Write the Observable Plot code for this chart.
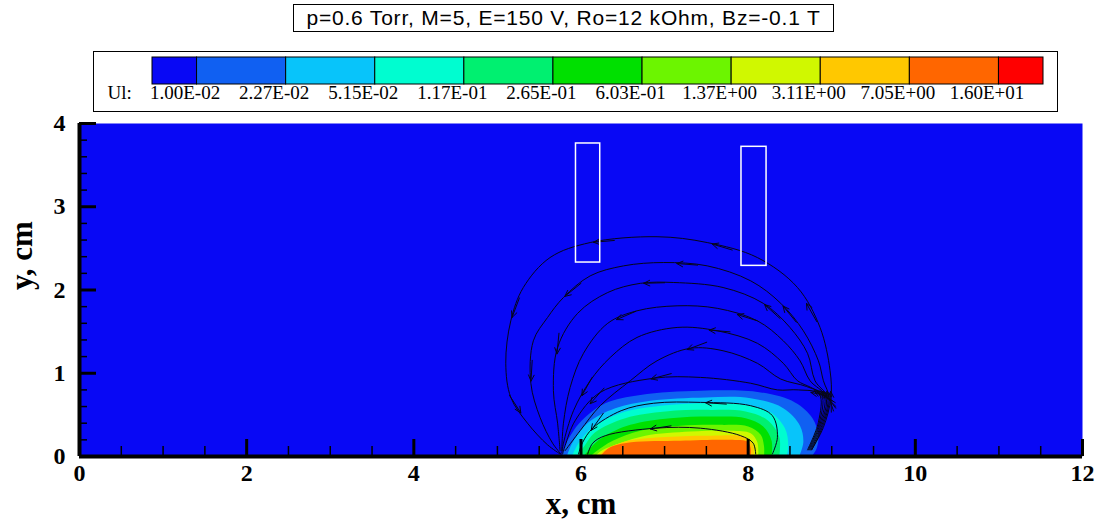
<!DOCTYPE html>
<html><head><meta charset="utf-8">
<script src="https://cdn.jsdelivr.net/npm/d3@7"></script>
<script src="https://cdn.jsdelivr.net/npm/@observablehq/plot@0.6"></script>
<style>
body{margin:0;background:#fff;width:1100px;height:527px;position:relative;overflow:hidden}
#title{position:absolute;left:293px;top:4px;width:541px;height:28px;box-sizing:border-box;border:1px solid #000;font:21px "Liberation Sans",Arial,sans-serif;letter-spacing:0.8px;display:flex;align-items:center;justify-content:center;white-space:nowrap;color:#000}
#legend{position:absolute;left:93px;top:51px;width:965px;height:61px;box-sizing:border-box;border:1px solid #000}
#legend svg,#chart svg{display:block}
#chart{position:absolute;left:0;top:115px}
</style></head><body>
<div id="title">p=0.6 Torr, M=5, E=150 V, Ro=12 kOhm, Bz=-0.1 T</div>
<div id="legend"></div>
<div id="chart"></div>
<script>
// Contour levels of Ui and their colours (band below first level = background)
const levels = [0.01, 0.0227, 0.0515, 0.117, 0.265, 0.603, 1.37, 3.11, 7.05, 16.0];
const levelLabels = ["1.00E-02","2.27E-02","5.15E-02","1.17E-01","2.65E-01","6.03E-01","1.37E+00","3.11E+00","7.05E+00","1.60E+01"];
const bandColors = ["#0808f5","#1060f2","#08c4fa","#00fdd0","#00f070","#00e000","#6cf500","#d0f800","#ffc800","#ff6600","#ff0000"];

// Contour lines (x cm, y cm), one per level
const c1 = [[5.77,0],[5.81,0.13],[5.91,0.31],[6.05,0.47],[6.29,0.64],[6.71,0.74],[7.43,0.79],[8.15,0.77],[8.56,0.65],[8.77,0.46],[8.84,0.25],[8.82,0.10],[8.76,0]];
const c2 = [[5.83,0],[5.90,0.17],[6.09,0.41],[6.41,0.58],[6.83,0.67],[7.49,0.71],[8.03,0.70],[8.42,0.58],[8.62,0.37],[8.66,0.17],[8.61,0]];
const c3 = [[5.89,0],[5.97,0.16],[6.14,0.35],[6.47,0.52],[6.95,0.61],[7.49,0.64],[7.97,0.62],[8.27,0.53],[8.44,0.34],[8.48,0.13],[8.46,0]];
const c4 = [[5.95,0],[6.03,0.11],[6.17,0.29],[6.53,0.46],[7.01,0.54],[7.55,0.56],[7.97,0.54],[8.24,0.43],[8.37,0.24],[8.38,0.08],[8.37,0]];
const c5 = [[6.03,0],[6.11,0.10],[6.26,0.23],[6.59,0.38],[7.07,0.46],[7.61,0.48],[7.97,0.46],[8.18,0.36],[8.28,0.19],[8.28,0]];
const c6 = [[6.11,0],[6.18,0.06],[6.38,0.19],[6.71,0.31],[7.19,0.37],[7.67,0.38],[8.00,0.36],[8.15,0.26],[8.19,0.12],[8.19,0]];
const c7 = [[6.17,0],[6.23,0.06],[6.41,0.14],[6.77,0.25],[7.31,0.30],[7.79,0.31],[8.03,0.28],[8.11,0.17],[8.12,0]];
const c8 = [[6.21,0],[6.29,0.08],[6.53,0.18],[6.95,0.23],[7.55,0.25],[7.97,0.23],[8.06,0.13],[8.07,0]];
const c9 = [[6.23,0],[6.33,0.10],[6.60,0.17],[7.19,0.19],[7.79,0.20],[7.99,0.18],[8.03,0.10],[8.03,0]];
const contours = [c1,c2,c3,c4,c5,c6,c7,c8,c9];

// Streamlines (flow order: right foot -> over the top -> left foot)
const s1 = [[8.76,0.08],[8.90,0.35],[8.99,0.70],[8.98,1.03],[8.86,1.55],[8.59,2.03],[8.11,2.39],[7.51,2.57],[6.91,2.64],[6.11,2.57],[5.63,2.39],[5.31,2.03],[5.16,1.63],[5.10,1.12],[5.16,0.71],[5.36,0.40],[5.60,0.14],[5.75,0.03]];
const s2 = [[8.76,0.08],[8.89,0.36],[8.97,0.70],[8.90,0.91],[8.84,1.15],[8.66,1.51],[8.39,1.84],[8.03,2.11],[7.51,2.29],[6.99,2.33],[6.51,2.29],[6.11,2.17],[5.79,1.91],[5.60,1.67],[5.43,1.39],[5.40,0.88],[5.51,0.47],[5.66,0.16],[5.76,0.03]];
const s3 = [[8.75,0.08],[8.88,0.37],[8.95,0.71],[8.80,0.91],[8.71,1.24],[8.50,1.55],[8.18,1.84],[7.70,2.03],[7.11,2.09],[6.71,2.08],[6.32,1.97],[5.96,1.72],[5.72,1.31],[5.67,0.79],[5.72,0.40],[5.75,0.07]];
const s4 = [[8.74,0.08],[8.87,0.38],[8.93,0.72],[8.74,0.91],[8.62,1.15],[8.42,1.39],[8.11,1.63],[7.63,1.78],[7.15,1.81],[6.67,1.75],[6.32,1.60],[6.03,1.24],[5.87,0.83],[5.79,0.40],[5.77,0.07]];
const s5 = [[8.73,0.08],[8.86,0.39],[8.91,0.73],[8.75,0.83],[8.59,0.91],[8.42,1.12],[8.11,1.36],[7.63,1.51],[7.15,1.55],[6.67,1.43],[6.35,1.19],[6.11,0.91],[5.91,0.55],[5.79,0.16],[5.77,0.04]];
const s6 = [[8.72,0.08],[8.85,0.40],[8.88,0.74],[8.70,0.84],[8.39,0.93],[8.11,1.12],[7.70,1.27],[7.31,1.30],[6.91,1.15],[6.59,0.91],[6.23,0.61],[5.99,0.31],[5.81,0.07]];
const s7 = [[8.71,0.08],[8.84,0.41],[8.85,0.75],[8.60,0.80],[8.35,0.80],[8.03,0.88],[7.43,0.95],[6.87,0.94],[6.23,0.77],[5.93,0.43],[5.81,0.13],[5.78,0.03]];
const s8 = [[8.29,0.03],[8.35,0.23],[8.29,0.49],[8.03,0.61],[7.43,0.65],[6.87,0.64],[6.48,0.55],[6.14,0.34],[6.02,0.17],[5.97,0.03]];
const s9 = [[8.09,0.03],[8.06,0.16],[7.91,0.25],[7.43,0.34],[6.89,0.34],[6.29,0.25],[6.14,0.16],[6.08,0.03]];
const streams = [s1,s2,s3,s4,s5,s6,s7,s8,s9];

// Arrowheads: [streamline, segment, fraction along segment]
const arrowSpec = [
  [0,2,0.25],[0,4,0.6],[0,6,0.9],[0,8,0.95],[0,11,0.9],[0,14,0.6],
  [1,2,0.4],[1,5,0.9],[1,8,0.7],[1,11,0.95],[1,14,0.95],
  [2,2,0.35],[2,5,0.95],[2,8,0.9],[2,12,0.15],
  [3,2,0.3],[3,6,0.5],[3,9,0.7],
  [4,2,0.5],[4,7,0.2],[4,11,0.5],
  [5,2,0.5],[5,7,0.1],
  [6,2,0.4],[6,7,0.05],[6,8,0.4],
  [7,3,0.9],[7,7,0.15],
  [8,4,0.1]
];

// Electrodes (white outlines)
const elX1 = [5.94, 7.92], elX2 = [6.23, 8.22], elY1 = [2.33, 2.29], elY2 = [3.76, 3.72];

// Axis ticks
const xMajor = [0,2,4,6,8,10,12];
const xMinor = [0.5,1,1.5,2.5,3,3.5,4.5,5,5.5,6.5,7,7.5,8.5,9,9.5,10.5,11,11.5];
const yMajor = [0,1,2,3,4];
const yMinor = [0.2,0.4,0.6,0.8,1.2,1.4,1.6,1.8,2.2,2.4,2.6,2.8,3.2,3.4,3.6,3.8];

// ---- derived tables ----
const colorScale = {type: "threshold", domain: levels, range: bandColors};
const contourRows = contours.flatMap((c, k) => c.map(([x, y]) => ({level: levels[k], x, y})));
const streamRows = streams.flatMap((s, k) => s.map(([x, y]) => ({id: k, x, y})));
const arrowRows = arrowSpec.map(([li, si, t]) => {
  const a = streams[li][si], b = streams[li][si + 1];
  const dx = b[0] - a[0], dy = b[1] - a[1], L = Math.hypot(dx, dy);
  const x2 = a[0] + dx * t, y2 = a[1] + dy * t;
  return {x1: x2 - 0.25 * dx / L, y1: y2 - 0.25 * dy / L, x2, y2};
});
const electrodes = elX1.map((d, i) => ({x1: elX1[i], x2: elX2[i], y1: elY1[i], y2: elY2[i]}));
const legendBands = bandColors.map((c, j) => ({
  x1: Math.max(j - 1, -0.5), x2: Math.min(j, levels.length - 0.5),
  v: j === 0 ? levels[0] / 2 : levels[j - 1]
}));

// ---- legend ----
const legend = Plot.plot({
  width: 963, height: 59,
  marginLeft: 58, marginRight: 14, marginTop: 5, marginBottom: 27,
  x: {domain: [-0.5, levels.length - 0.5], axis: null},
  color: colorScale,
  style: {fontFamily: "'Liberation Serif', 'Times New Roman', serif", background: "transparent", color: "#000", overflow: "visible"},
  marks: [
    Plot.barX(legendBands, {x1: "x1", x2: "x2", fill: "v", stroke: "#000", strokeWidth: 1}),
    Plot.text(levelLabels, {x: (d, i) => i, text: d => d, frameAnchor: "bottom", dy: 14, dx: -12, fontSize: 19}),
    Plot.text(["Ul:"], {text: d => d, frameAnchor: "bottom-left", dx: -45, dy: 14, textAnchor: "start", fontSize: 19})
  ]
});
document.getElementById("legend").append(legend);

// ---- main chart ----
const W = 1100, H = 412, mL = 79, mR = 18, mT = 8, mB = 71;
const fw = W - mL - mR, fh = H - mT - mB;
const chart = Plot.plot({
  width: W, height: H,
  marginLeft: mL, marginRight: mR, marginTop: mT, marginBottom: mB,
  x: {domain: [0, 12]},
  y: {domain: [0, 4]},
  color: colorScale,
  style: {fontFamily: "'Liberation Serif', 'Times New Roman', serif", fontWeight: "bold", background: "transparent", color: "#000", overflow: "visible"},
  marks: [
    Plot.frame({fill: bandColors[0], stroke: "none"}),
    Plot.line(contourRows, {x: "x", y: "y", z: "level", fill: "level", stroke: "none", curve: "catmull-rom"}),
    Plot.line(streamRows, {x: "x", y: "y", z: "id", stroke: "#05051a", strokeWidth: 1, curve: "catmull-rom"}),
    Plot.arrow(arrowRows, {x1: "x1", y1: "y1", x2: "x2", y2: "y2", stroke: "#05051a", strokeWidth: 1, headLength: 10, headAngle: 50}),
    Plot.rect(electrodes, {x1: "x1", x2: "x2", y1: "y1", y2: "y2", fill: "none", stroke: "#fff", strokeWidth: 1.5}),
    Plot.ruleX(xMinor, {insetTop: fh - 10, stroke: "#000", strokeWidth: 1.5}),
    Plot.ruleX(xMajor, {insetTop: fh - 17, stroke: "#000", strokeWidth: 3}),
    Plot.ruleY(yMinor, {insetRight: fw - 8, stroke: "#000", strokeWidth: 1.5}),
    Plot.ruleY(yMajor, {insetRight: fw - 17, stroke: "#000", strokeWidth: 3}),
    Plot.ruleY([0], {stroke: "#000", strokeWidth: 4}),
    Plot.ruleX([0], {stroke: "#000", strokeWidth: 4}),
    Plot.axisX({ticks: xMajor, tickFormat: d => String(d), tickSize: 0, tickPadding: 7, fontSize: 24, label: null}),
    Plot.axisY({ticks: yMajor, tickFormat: d => String(d), tickSize: 0, tickPadding: 14, fontSize: 24, label: null}),
    Plot.text(["x, cm"], {text: d => d, frameAnchor: "bottom", dy: 57, fontSize: 31}),
    Plot.text(["y, cm"], {text: d => d, frameAnchor: "left", dx: -57, rotate: -90, fontSize: 31})
  ]
});
document.getElementById("chart").append(chart);
</script>
</body></html>
